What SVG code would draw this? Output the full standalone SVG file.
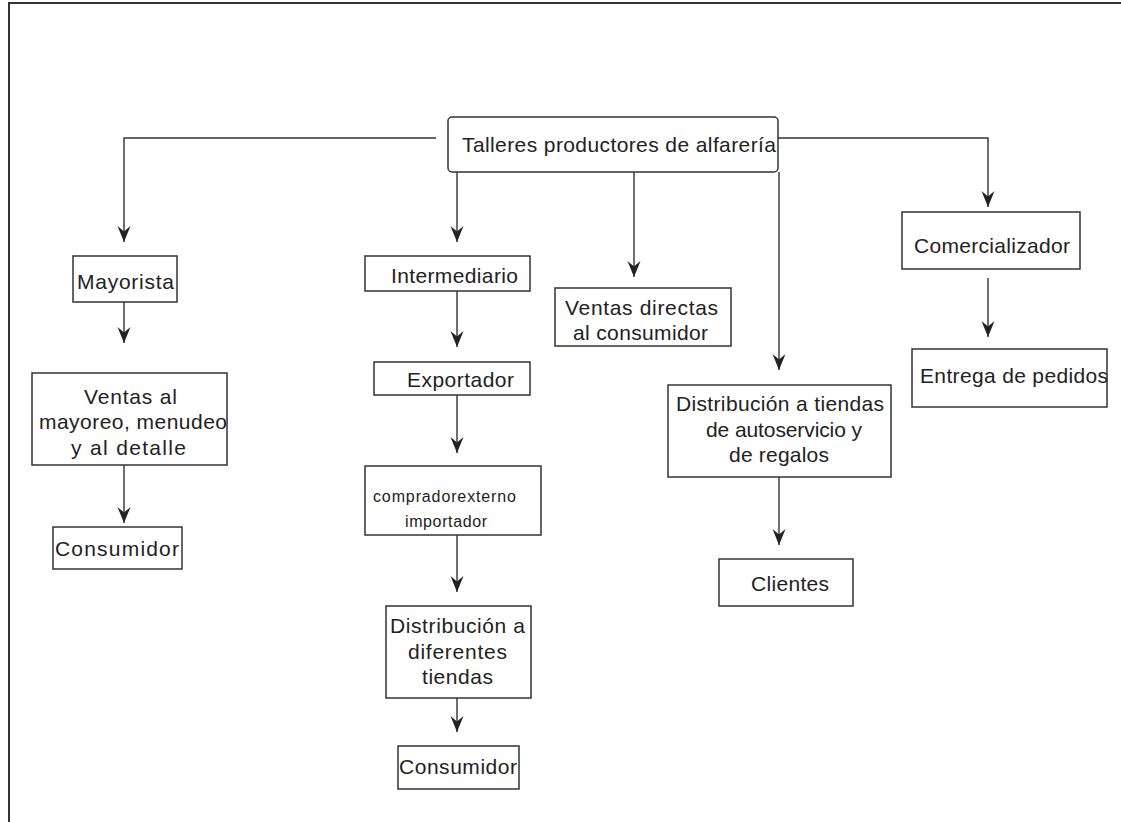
<svg xmlns="http://www.w3.org/2000/svg" width="1121" height="822" viewBox="0 0 1121 822">
<style>
.box{fill:#fff;stroke:#333;stroke-width:1.5}
.con{fill:none;stroke:#333;stroke-width:1.4}
text{font-family:"Liberation Sans",Arial,sans-serif;font-size:21px;fill:#222}
.sm{font-size:16px}
</style>
<defs>
<marker id="ah" viewBox="-17 -8 18 16" refX="0" refY="0" markerWidth="18" markerHeight="16" markerUnits="userSpaceOnUse" orient="auto">
<path d="M0,0 L-16,-6.5 L-10.5,0 L-16,6.5 Z" fill="#222"/>
</marker>
</defs>
<rect width="1121" height="822" fill="#fff"/>
<g id="frame" fill="none" stroke="#333" stroke-width="2">
<line x1="8" y1="3" x2="1121" y2="3"/>
<line x1="9" y1="3" x2="9" y2="822"/>
</g>
<g id="connectors" class="con" marker-end="url(#ah)">
<path d="M436,138 H124 V242"/>
<path d="M457,172 V242"/>
<path d="M634,172 V277"/>
<path d="M779,172 V370"/>
<path d="M778,138 H988 V207"/>
<path d="M124,302 V343"/>
<path d="M124,465 V523"/>
<path d="M457,291 V347"/>
<path d="M457,395 V453"/>
<path d="M457,535 V592"/>
<path d="M457,698 V732"/>
<path d="M779,477 V545"/>
<path d="M988,278 V337"/>
</g>
<g id="n-talleres">
<rect class="box" x="448" y="117" width="330" height="55" rx="4"/>
<text x="462" y="152" textLength="314" lengthAdjust="spacing">Talleres productores de alfarería</text>
</g>
<g id="n-mayorista">
<rect class="box" x="73" y="256" width="104" height="46"/>
<text x="77" y="289" textLength="97" lengthAdjust="spacing">Mayorista</text>
</g>
<g id="n-ventas-mayoreo">
<rect class="box" x="32" y="373" width="195" height="92"/>
<text x="84" y="404" textLength="93" lengthAdjust="spacing">Ventas al</text>
<text x="39" y="429" textLength="188" lengthAdjust="spacing">mayoreo, menudeo</text>
<text x="71" y="455" textLength="115" lengthAdjust="spacing">y al detalle</text>
</g>
<g id="n-consumidor1">
<rect class="box" x="53" y="527" width="129" height="42"/>
<text x="55" y="556" textLength="124" lengthAdjust="spacing">Consumidor</text>
</g>
<g id="n-intermediario">
<rect class="box" x="365" y="256" width="165" height="35"/>
<text x="391" y="283" textLength="127" lengthAdjust="spacing">Intermediario</text>
</g>
<g id="n-exportador">
<rect class="box" x="374" y="362" width="156" height="33"/>
<text x="407" y="387" textLength="107" lengthAdjust="spacing">Exportador</text>
</g>
<g id="n-comprador">
<rect class="box" x="365" y="466" width="176" height="69"/>
<text class="sm" x="373" y="502" textLength="143" lengthAdjust="spacing">compradorexterno</text>
<text class="sm" x="405" y="527" textLength="82" lengthAdjust="spacing">importador</text>
</g>
<g id="n-distribucion-diferentes">
<rect class="box" x="386" y="606" width="145" height="92"/>
<text x="390" y="633" textLength="135" lengthAdjust="spacing">Distribución a</text>
<text x="408" y="659" textLength="99" lengthAdjust="spacing">diferentes</text>
<text x="422" y="684" textLength="71" lengthAdjust="spacing">tiendas</text>
</g>
<g id="n-consumidor2">
<rect class="box" x="398" y="746" width="121" height="43"/>
<text x="399" y="774" textLength="118" lengthAdjust="spacing">Consumidor</text>
</g>
<g id="n-ventas-directas">
<rect class="box" x="555" y="288" width="176" height="58"/>
<text x="565" y="315" textLength="153" lengthAdjust="spacing">Ventas directas</text>
<text x="573" y="340" textLength="135" lengthAdjust="spacing">al consumidor</text>
</g>
<g id="n-distribucion-tiendas">
<rect class="box" x="668" y="385" width="223" height="92"/>
<text x="676" y="411" textLength="208" lengthAdjust="spacing">Distribución a tiendas</text>
<text x="706" y="437" textLength="156" lengthAdjust="spacing">de autoservicio y</text>
<text x="729" y="462" textLength="100" lengthAdjust="spacing">de regalos</text>
</g>
<g id="n-clientes">
<rect class="box" x="719" y="559" width="134" height="47"/>
<text x="751" y="591" textLength="78" lengthAdjust="spacing">Clientes</text>
</g>
<g id="n-comercializador">
<rect class="box" x="902" y="212" width="178" height="57"/>
<text x="914" y="253" textLength="156" lengthAdjust="spacing">Comercializador</text>
</g>
<g id="n-entrega">
<rect class="box" x="912" y="349" width="195" height="58"/>
<text x="920" y="383" textLength="188" lengthAdjust="spacing">Entrega de pedidos</text>
</g>
</svg>
